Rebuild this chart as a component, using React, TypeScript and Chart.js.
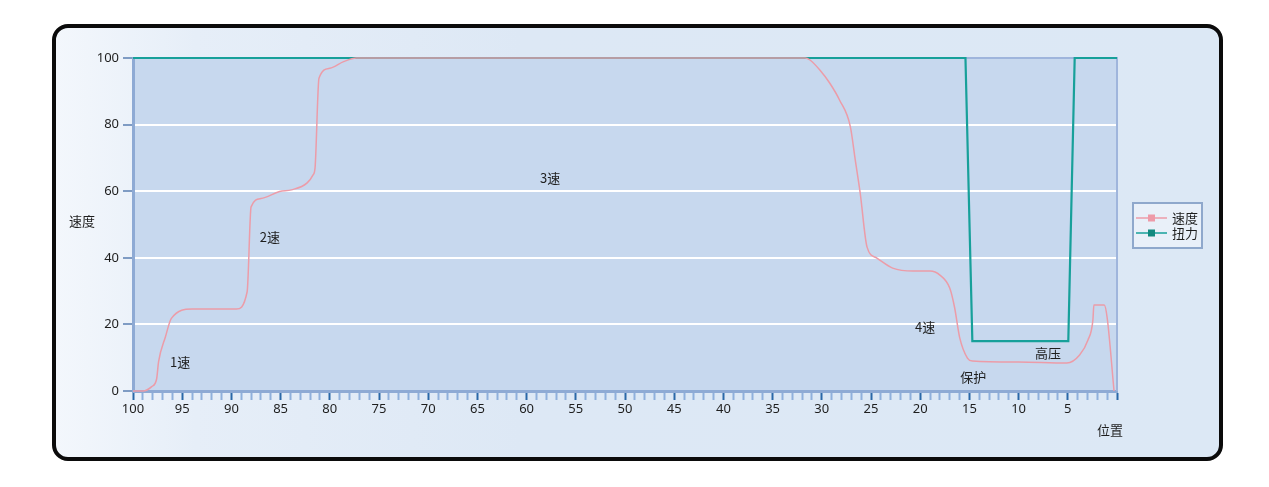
import React, { useEffect, useRef } from "react";
import { Chart, registerables } from "chart.js";

Chart.register(...registerables);

// ---- data ----
const speedPos = [100, 99, 98.1, 97.6, 97.4, 96.7, 96.1, 94.0, 89.5, 88.4, 88.0, 87.0, 85.1, 83.9, 82.3, 81.7, 81.5, 81.1, 80.0, 78.6, 77.3, 31.7, 31.2, 30.2, 29.2, 28.2, 27.1, 26.6, 26.1, 25.4, 24.4, 22.8, 20.7, 19.0, 18.0, 17.0, 16.5, 16.0, 15.2, 14.7, 10, 5.1, 3.8, 2.95, 2.45, 2.35, 1.3, 1.0, 0.3];
const speedVal = [0, 0, 1.3, 3.6, 8.8, 16.3, 21.8, 24.6, 24.6, 29.8, 55.3, 57.8, 59.9, 60.4, 62.5, 64.9, 67, 93.9, 96.9, 98.9, 100, 100, 99.4, 96.4, 92.5, 87.4, 79.4, 69.4, 59.5, 43.2, 39.9, 36.9, 36.0, 36.0, 34.8, 30.9, 25, 16.2, 9.9, 9.0, 8.7, 8.4, 10.8, 15.3, 21.3, 25.8, 25.8, 22, 0];
const torquePos = [100, 15.4, 14.7, 4.95, 4.3, 0];
const torqueVal = [100, 100, 15, 15, 100, 100];

const seriesNames = ["速度", "扭力"];
const xTitle = "位置";
const yTitle = "速度";
const xTickValues = Array.from({ length: 101 }, (_, i) => i);
const yTickValues = [0, 20, 40, 60, 80, 100];

const noteText = ["1速", "2速", "3速", "4速", "保护", "高压"];
const notePos = [95.2, 86.1, 57.6, 19.5, 14.6, 7.0];
const noteVal = [8.7, 46.2, 64, 19.2, 4.2, 11.4];

// ---- styles ----
const PINK = "#ec9ca8";
const TEAL = "#17a09a";
const PLOT_BG = "#c7d8ee";
const AXIS = "#8eaad4";
const TEXT = "#1e1e1e";
const FONT = '"Noto Sans", "Noto Sans CJK SC", sans-serif';
const CJK = '"Noto Sans CJK SC", "Noto Sans", sans-serif';

const decorPlugin = {
  id: "decor",
  beforeDraw(chart: any) {
    const { ctx, chartArea: a } = chart;
    ctx.save();
    ctx.fillStyle = PLOT_BG;
    ctx.fillRect(a.left, a.top, a.right - a.left, a.bottom - a.top);
    ctx.restore();
  },
  beforeDatasetsDraw(chart: any) {
    const { ctx, chartArea: a } = chart;
    ctx.save();
    ctx.strokeStyle = "#9fb5dc";
    ctx.lineWidth = 2;
    ctx.beginPath();
    ctx.moveTo(a.left, a.top);
    ctx.lineTo(a.right, a.top);
    ctx.lineTo(a.right, a.bottom);
    ctx.stroke();
    ctx.restore();
  },
  afterDraw(chart: any) {
    const { ctx, scales } = chart;
    const xs = scales.x;
    const ys = scales.y;
    ctx.save();
    ctx.fillStyle = TEXT;
    ctx.textAlign = "center";
    ctx.textBaseline = "middle";
    ctx.font = `13px ${CJK}`;
    noteText.forEach((t, i) => {
      ctx.fillText(t, xs.getPixelForValue(notePos[i]), ys.getPixelForValue(noteVal[i]));
    });
    // axis titles
    ctx.fillText(yTitle, 82, 221);
    ctx.fillText(xTitle, 1110, 430);

    // legend
    const lx = 1133, ly = 203, lw = 69, lh = 45;
    ctx.fillStyle = "#e9f0f9";
    ctx.fillRect(lx, ly, lw, lh);
    ctx.strokeStyle = "#8fa8cc";
    ctx.lineWidth = 2;
    ctx.strokeRect(lx, ly, lw, lh);
    const colors = [PINK, TEAL];
    const markers = ["#ee9aa8", "#12897f"];
    seriesNames.forEach((n, i) => {
      const yy = 218 + i * 15;
      ctx.strokeStyle = colors[i];
      ctx.lineWidth = 1.5;
      ctx.beginPath();
      ctx.moveTo(1136, yy);
      ctx.lineTo(1167, yy);
      ctx.stroke();
      ctx.fillStyle = markers[i];
      ctx.fillRect(1148, yy - 3.5, 7, 7);
      ctx.fillStyle = TEXT;
      ctx.textAlign = "left";
      ctx.fillText(n, 1172, yy);
    });
    ctx.restore();
  },
};

export default function App() {
  const ref = useRef<HTMLCanvasElement>(null);
  useEffect(() => {
    const canvas = ref.current!;
    Chart.defaults.font.family = FONT;
    const chart = new Chart(canvas, {
      type: "line",
      data: {
        datasets: [
          {
            label: seriesNames[0],
            data: speedPos.map((x, i) => ({ x, y: speedVal[i] })),
            borderColor: PINK,
            borderWidth: 1.5,
            pointRadius: 0,
            cubicInterpolationMode: "monotone",
            clip: false,
            order: 0,
          } as any,
          {
            label: seriesNames[1],
            data: torquePos.map((x, i) => ({ x, y: torqueVal[i] })),
            borderColor: TEAL,
            borderWidth: 2.2,
            pointRadius: 0,
            tension: 0,
            clip: false,
            order: 1,
          } as any,
        ],
      },
      options: {
        responsive: false,
        animation: false,
        events: [],
        layout: { padding: { left: 60, top: 58, right: 152, bottom: 66 } },
        plugins: { legend: { display: false }, tooltip: { enabled: false } },
        scales: {
          x: {
            type: "linear",
            reverse: true,
            min: 0,
            max: 100,
            afterFit: (s: any) => {
              s.height = 30;
            },
            afterBuildTicks: (s: any) => {
              s.ticks = xTickValues.map((v) => ({ value: v }));
            },
            ticks: {
              autoSkip: false,
              maxRotation: 0,
              minRotation: 0,
              padding: 1,
              color: TEXT,
              font: { size: 13, family: FONT },
              callback: (v: any) => (Number(v) % 5 === 0 && Number(v) !== 0 ? String(v) : ""),
            },
            grid: {
              drawOnChartArea: false,
              drawTicks: true,
              tickLength: 9,
              tickWidth: 2,
              tickColor: (c: any) => (c.tick && c.tick.value % 5 === 0 ? "#2a68a8" : "#8fb0dc"),
            },
            border: { display: true, color: AXIS, width: 3 },
          },
          y: {
            min: 0,
            max: 100,
            afterFit: (s: any) => {
              s.width = 73;
            },
            afterBuildTicks: (s: any) => {
              s.ticks = yTickValues.map((v) => ({ value: v }));
            },
            ticks: {
              padding: 4,
              color: TEXT,
              font: { size: 13, family: FONT },
            },
            grid: {
              color: (c: any) => (c.tick && c.tick.value > 0 && c.tick.value < 100 ? "#ffffff" : "rgba(0,0,0,0)"),
              lineWidth: 2,
              tickLength: 10,
              tickWidth: 2,
              tickColor: "#7f9cc4",
            },
            border: { display: true, color: AXIS, width: 3 },
          },
        },
      },
      plugins: [decorPlugin],
    });
    return () => chart.destroy();
  }, []);

  return (
    <div style={{ position: "fixed", left: 0, top: 0, width: 1269, height: 487, background: "#ffffff" }}>
      <div
        style={{
          position: "absolute",
          left: 52,
          top: 24,
          width: 1171,
          height: 437,
          boxSizing: "border-box",
          border: "4px solid #0b0b0b",
          borderRadius: 16,
          background: "linear-gradient(90deg, #f3f7fc 0%, #e6eef8 12%, #dde8f5 40%, #dce8f5 100%)",
        }}
      />
      <canvas ref={ref} width={1269} height={487} style={{ position: "absolute", left: 0, top: 0, display: "block" }} />
    </div>
  );
}
